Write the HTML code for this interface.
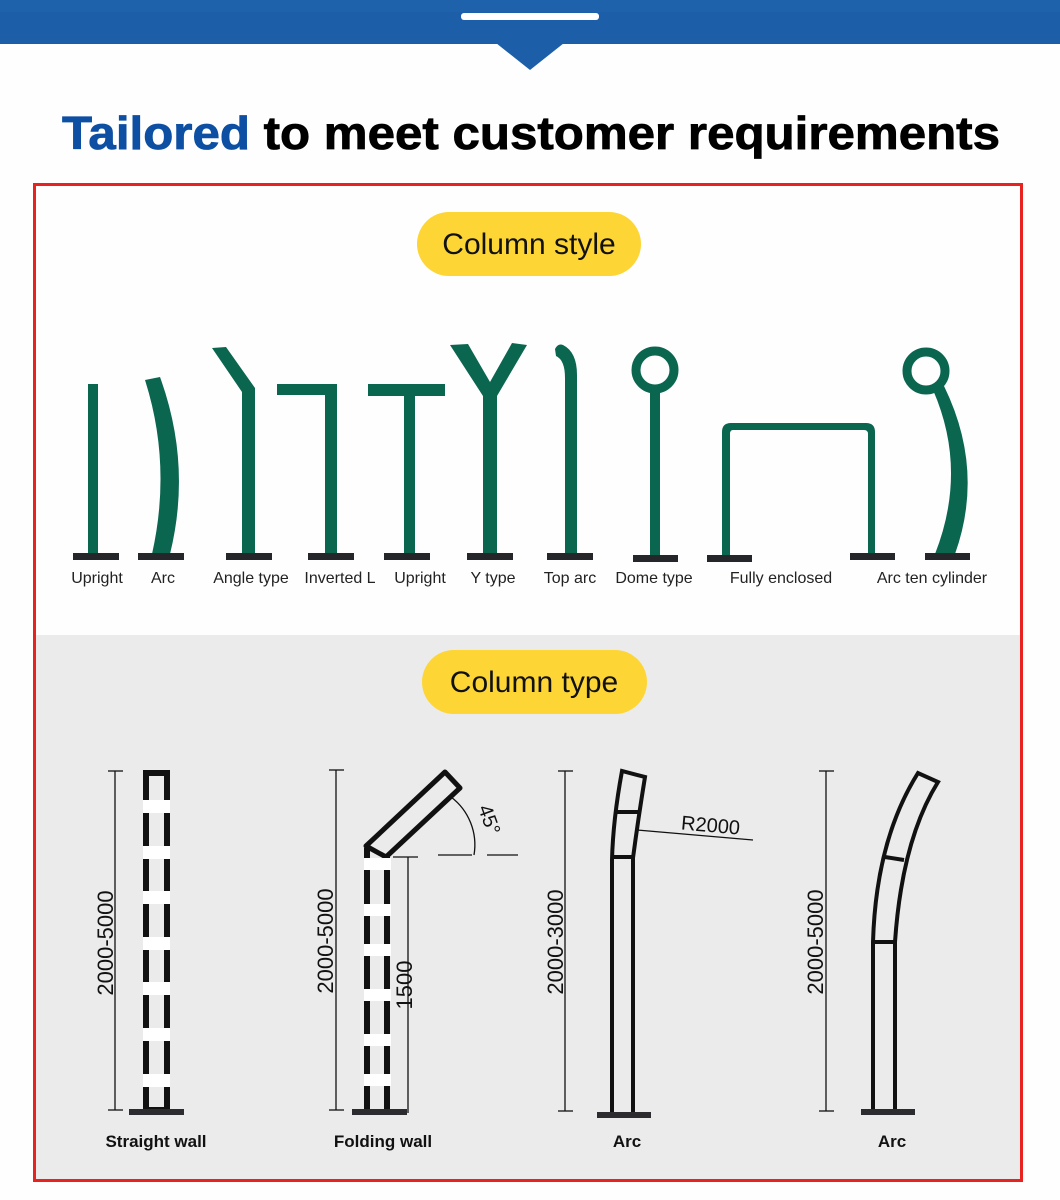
<!DOCTYPE html>
<html><head><meta charset="utf-8"><style>
html,body{margin:0;padding:0;background:#fff;}
svg{display:block;}
</style></head><body>
<svg width="1060" height="1200" viewBox="0 0 1060 1200" xmlns="http://www.w3.org/2000/svg" font-family="Liberation Sans, Arial, sans-serif">
<rect x="0" y="0" width="1060" height="1200" fill="#fefefe"/>
<!-- header -->
<rect x="0" y="0" width="1060" height="44" fill="#1d5ea8"/>
<rect x="0" y="0" width="1060" height="12" fill="#2265b0" opacity="0.5"/>
<rect x="461" y="13" width="138" height="7" rx="3" fill="#fff"/>
<polygon points="496,43 564,43 530,70" fill="#1d5ea8"/>
<!-- title -->
<text x="531" y="149" font-size="46" font-weight="bold" text-anchor="middle" textLength="938" lengthAdjust="spacingAndGlyphs" fill="#000" stroke="#000" stroke-width="0.8"><tspan fill="#0d4fa3" stroke="#0d4fa3">Tailored</tspan> to meet customer requirements</text>
<!-- grey lower area -->
<rect x="35" y="635" width="987" height="546" fill="#ebebeb"/>
<!-- red border -->
<rect x="34.5" y="184.5" width="987" height="996" fill="none" stroke="#e8231f" stroke-width="3"/>
<!-- pills -->
<rect x="417" y="212" width="224" height="64" rx="32" fill="#fdd535"/>
<text x="529" y="254" font-size="30" text-anchor="middle" fill="#111">Column style</text>
<rect x="422" y="650" width="225" height="64" rx="32" fill="#fdd535"/>
<text x="534" y="692" font-size="30" text-anchor="middle" fill="#111">Column type</text>

<!-- column styles -->
<g fill="#0b6650" stroke="none">
<rect x="88" y="384" width="10" height="170"/>
<path d="M145,380 L160,377 Q192,465 170,554 L152,554 Q172,465 145,380 Z"/>
<path d="M212,348 L226,347 L255,388 L255,554 L242,554 L242,392 Z"/>
<rect x="277" y="384" width="60" height="11"/>
<rect x="325" y="384" width="12" height="170"/>
<rect x="368" y="384" width="77" height="12"/>
<rect x="404" y="384" width="11" height="170"/>
<path d="M450,345 L468,344 L490,382 L512,343 L527,345 L497,396 L497,554 L483,554 L483,396 Z"/>
<path d="M555,349 Q558,343 563,345 Q577,352 577,375 L577,554 L565,554 L565,378 Q565,360 556,356 Z"/>
<circle cx="655" cy="370" r="19" fill="none" stroke="#0b6650" stroke-width="9"/>
<rect x="650" y="388" width="10" height="167"/>
<path d="M722,559 L722,432 Q722,423 731,423 L866,423 Q875,423 875,432 L875,554 L868,554 L868,434 Q868,430 864,430 L733,430 Q730,430 730,434 L730,559 Z"/>
<circle cx="926" cy="371" r="19" fill="none" stroke="#0b6650" stroke-width="9"/>
<path d="M933,390 L944,386 Q985,470 955,554 L935,554 Q968,470 933,390 Z"/>
</g>
<g fill="#25262a">
<rect x="73" y="553" width="46" height="7"/>
<rect x="138" y="553" width="46" height="7"/>
<rect x="226" y="553" width="46" height="7"/>
<rect x="308" y="553" width="46" height="7"/>
<rect x="384" y="553" width="46" height="7"/>
<rect x="467" y="553" width="46" height="7"/>
<rect x="547" y="553" width="46" height="7"/>
<rect x="633" y="555" width="45" height="7"/>
<rect x="707" y="555" width="45" height="7"/>
<rect x="850" y="553" width="45" height="7"/>
<rect x="925" y="553" width="45" height="7"/>
</g>
<g font-size="16" fill="#222" text-anchor="middle">
<text x="97" y="583">Upright</text>
<text x="163" y="583">Arc</text>
<text x="251" y="583">Angle type</text>
<text x="340" y="583">Inverted L</text>
<text x="420" y="583">Upright</text>
<text x="493" y="583">Y type</text>
<text x="570" y="583">Top arc</text>
<text x="654" y="583">Dome type</text>
<text x="781" y="583">Fully enclosed</text>
<text x="932" y="583">Arc ten cylinder</text>
</g>

<!-- column types -->
<g stroke="#111" fill="none">
<g stroke-width="1.3">
<line x1="115" y1="771" x2="115" y2="1110"/><line x1="108" y1="771" x2="123" y2="771"/><line x1="108" y1="1110" x2="123" y2="1110"/>
<line x1="336" y1="770" x2="336" y2="1110"/><line x1="329" y1="770" x2="344" y2="770"/><line x1="329" y1="1110" x2="344" y2="1110"/>
<line x1="408" y1="857" x2="408" y2="1113"/><line x1="393" y1="857" x2="418" y2="857"/>
<line x1="565" y1="771" x2="565" y2="1111"/><line x1="558" y1="771" x2="573" y2="771"/><line x1="558" y1="1111" x2="573" y2="1111"/>
<line x1="826" y1="771" x2="826" y2="1111"/><line x1="819" y1="771" x2="834" y2="771"/><line x1="819" y1="1111" x2="834" y2="1111"/>
<line x1="438" y1="855" x2="472" y2="855"/><line x1="487" y1="855" x2="518" y2="855"/>
<path d="M451,797 A60,60 0 0 1 474,855"/>
<line x1="637" y1="830" x2="753" y2="840"/>
</g>
<rect x="146" y="773" width="21" height="337" stroke-width="6"/>
<path d="M367,1110 L367,848 M387,1110 L387,857" stroke-width="6"/>
<polygon points="366,846 386,857 460,788 445,772" stroke-width="5" stroke-linejoin="round"/>
<path d="M612,1112 L612,860 Q613,820 622,771 L645,777 Q638,820 633,858 L633,1112" stroke-width="4"/>
<line x1="615" y1="812" x2="640" y2="812" stroke-width="4"/>
<line x1="613" y1="857" x2="634" y2="857" stroke-width="4"/>
<path d="M873,1110 L873,942 Q876,840 918,773 L938,782 Q902,840 895,942 L895,1110" stroke-width="4"/>
<line x1="885" y1="857" x2="904" y2="860" stroke-width="4"/>
<line x1="873" y1="942" x2="895" y2="942" stroke-width="4"/>
</g>
<g fill="#fff">
<rect x="143" y="800" width="27" height="13"/><rect x="143" y="846" width="27" height="13"/><rect x="143" y="891" width="27" height="13"/>
<rect x="143" y="937" width="27" height="13"/><rect x="143" y="982" width="27" height="13"/><rect x="143" y="1028" width="27" height="13"/><rect x="143" y="1074" width="27" height="13"/>
<rect x="364" y="858" width="27" height="12"/><rect x="364" y="904" width="27" height="12"/><rect x="364" y="944" width="27" height="12"/>
<rect x="364" y="989" width="27" height="12"/><rect x="364" y="1034" width="27" height="12"/><rect x="364" y="1074" width="27" height="12"/>
</g>
<g fill="#2c2c30">
<rect x="129" y="1109" width="55" height="6"/>
<rect x="352" y="1109" width="55" height="6"/>
<rect x="597" y="1112" width="54" height="6"/>
<rect x="861" y="1109" width="54" height="6"/>
</g>
<g font-size="22" fill="#111" text-anchor="middle">
<text transform="translate(113,943) rotate(-90)">2000-5000</text>
<text transform="translate(333,941) rotate(-90)">2000-5000</text>
<text transform="translate(412,985) rotate(-90)">1500</text>
<text transform="translate(563,942) rotate(-90)">2000-3000</text>
<text transform="translate(823,942) rotate(-90)">2000-5000</text>
<text transform="translate(483,822) rotate(70)" font-size="20">45°</text>
<text transform="translate(710,832) rotate(5)" font-size="20">R2000</text>
</g>
<g font-size="17" font-weight="bold" fill="#111" text-anchor="middle">
<text x="156" y="1147">Straight wall</text>
<text x="383" y="1147">Folding wall</text>
<text x="627" y="1147">Arc</text>
<text x="892" y="1147">Arc</text>
</g>
</svg>
</body></html>
